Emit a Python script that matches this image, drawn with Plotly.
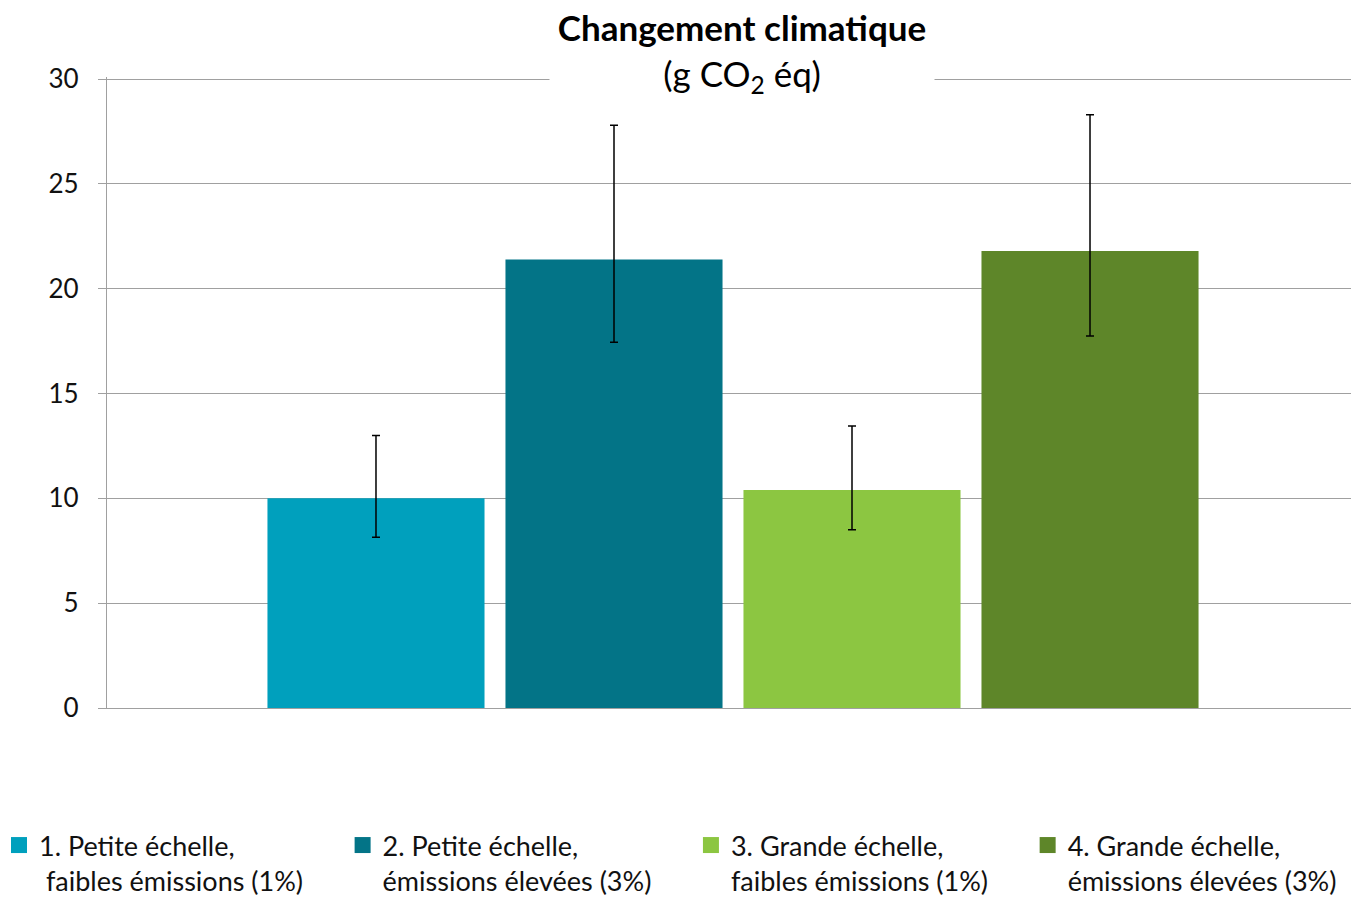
import plotly.graph_objects as go

categories = ["Changement climatique"]
NB = "\u00a0" * 5
series_names = [
    "1. Petite échelle,<br> faibles émissions (1%)" + NB,
    "2. Petite échelle,<br>émissions élevées (3%)" + NB,
    "3. Grande échelle,<br>faibles émissions (1%)" + NB,
    "4. Grande échelle,<br>émissions élevées (3%)",
]
values = [10.0, 21.4, 10.4, 21.8]
err_plus = [3.0, 6.4, 3.05, 6.5]
err_minus = [1.85, 3.95, 1.9, 4.05]
colors = ["#00A0BD", "#037487", "#8CC641", "#5E8629"]
y_ticks = [0, 5, 10, 15, 20, 25, 30]

FONT = "Lato, 'Noto Sans', sans-serif"
TXT = "#111111"
GRID = "#A0A0A0"

# the page body has an 8px margin, so the figure is drawn 8px smaller
FW, FH = 1351, 889
# plot-area geometry in figure pixels
T, B, L, W = 69, 700, 99, 1252
H = B - T


def py(p):
    return (B - p) / H


def px(p):
    return (p - L) / W


fig = go.Figure()
for name, v, ep, em, c in zip(series_names, values, err_plus, err_minus, colors):
    fig.add_trace(go.Bar(
        x=categories, y=[v], name=name, marker=dict(color=c, line=dict(width=0)),
        showlegend=False,
        error_y=dict(type="data", symmetric=False, array=[ep], arrayminus=[em],
                     color="#000000", thickness=1.5, width=4),
    ))
for name, c in zip(series_names, colors):
    fig.add_trace(go.Scatter(
        x=[None], y=[None], mode="markers", name=name,
        marker=dict(symbol="square", size=16, color=c),
    ))

fig.update_layout(
    width=FW, height=FH,
    margin=dict(l=L, r=FW - L - W, t=T, b=FH - B, autoexpand=False),
    paper_bgcolor="white", plot_bgcolor="white",
    font=dict(family=FONT, size=27, color=TXT),
    barmode="group", bargap=0.2396, bargroupgap=0.088,
    showlegend=True,
    legend=dict(orientation="h", x=px(-9), xanchor="left", y=py(897), yanchor="bottom",
                valign="top", font=dict(family=FONT, size=27, color=TXT),
                tracegroupgap=0, itemsizing="trace"),
    xaxis=dict(range=[-0.5, 0.5], showticklabels=False, showgrid=False,
               showline=True, linecolor=GRID, linewidth=1.3, ticks="", zeroline=False),
    yaxis=dict(range=[0, 30.1], tickvals=y_ticks, showgrid=True, gridcolor=GRID, gridwidth=1.3,
               showline=True, linecolor=GRID, linewidth=1.3, ticks="outside", ticklen=8,
               tickcolor=GRID, tickwidth=1.3, zeroline=False, ticklabelstandoff=14,
               tickfont=dict(family=FONT, size=26, color=TXT)),
)

fig.add_annotation(
    xref="paper", yref="paper", x=px(734), y=py(44),
    xanchor="center", yanchor="middle", showarrow=False, width=382, bgcolor="white",
    text="<b>Changement climatique</b><br>(g CO<sub>2</sub> éq)",
    font=dict(family=FONT, size=35, color="#000000"),
)

fig.write_html("out.html")
